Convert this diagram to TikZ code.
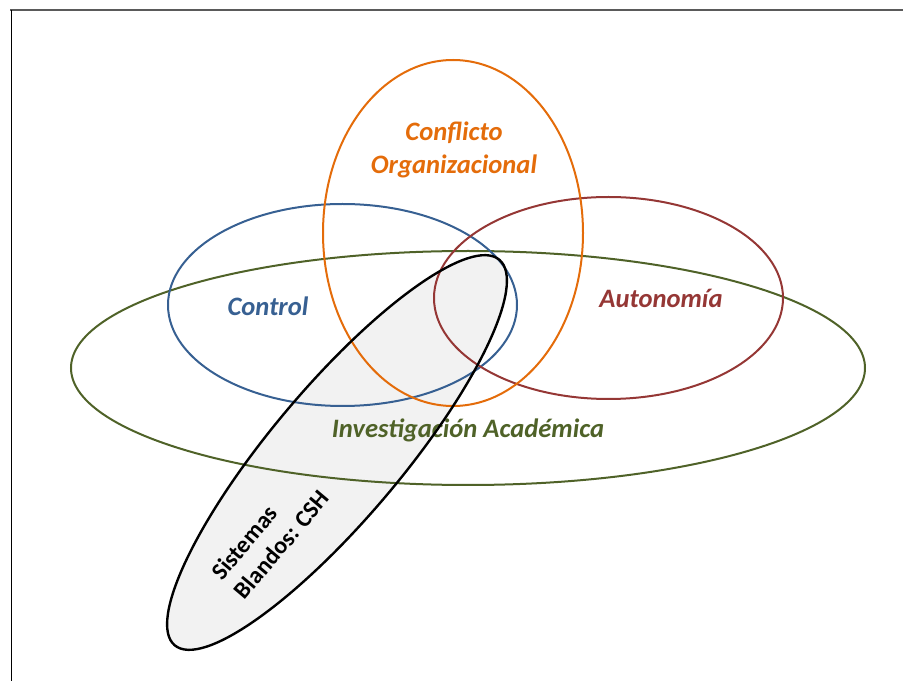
\documentclass[tikz,border=0pt]{standalone}
\usepackage{fontspec}
\setmainfont{Carlito}
\definecolor{cOrange}{HTML}{E46C0A}
\definecolor{cBlue}{HTML}{376092}
\definecolor{cRed}{HTML}{953735}
\definecolor{cGreen}{HTML}{4F6228}
\definecolor{cFill}{HTML}{F2F2F2}
\definecolor{cFrame}{HTML}{5A5A5A}
\begin{document}
\begin{tikzpicture}[x=1pt,y=1pt,
  setline/.style={line width=2pt},
  setlabel/.style={inner sep=0pt, font=\fontsize{26.6}{33}\selectfont\bfseries\itshape, align=center}]
\useasboundingbox (0,0) rectangle (903,681);
% frame
\draw[cFrame, line width=2pt] (10,671) -- (903,671);
\draw[black, line width=1pt] (11,671) -- (11,0);
% soft systems set (fill underneath)
\fill[cFill, rotate around={49.9:(337,228.5)}] (337,228.5) ellipse [x radius=252, y radius=65.5];
% sets
\draw[setline, cGreen] (468,313) ellipse [x radius=397, y radius=117];
\draw[setline, cBlue] (342.5,376) ellipse [x radius=174.5, y radius=101];
\draw[setline, cRed] (608.5,383) ellipse [x radius=174.5, y radius=101];
\draw[setline, cOrange] (453,448) ellipse [x radius=130, y radius=173];
% labels
\node[setlabel, text=cOrange] (conflicto) at (454,531) {Conflicto\\Organizacional};
\node[setlabel, text=cBlue] (control) at (268,375) {Control};
\node[setlabel, text=cRed] (autonomia) at (661,383) {Autonomía};
\node[setlabel, text=cGreen] (investigacion) at (468,251) {Investigación Académica};
\node[inner sep=0pt, align=left, rotate=49.9, font=\fontsize{24}{29.5}\selectfont\bfseries] (sistemas) at (270,146) {Sistemas\\Blandos: CSH};
% soft systems outline on top
\draw[black, line width=2.4pt, rotate around={49.9:(337,228.5)}] (337,228.5) ellipse [x radius=252, y radius=65.5];
\end{tikzpicture}
\end{document}
